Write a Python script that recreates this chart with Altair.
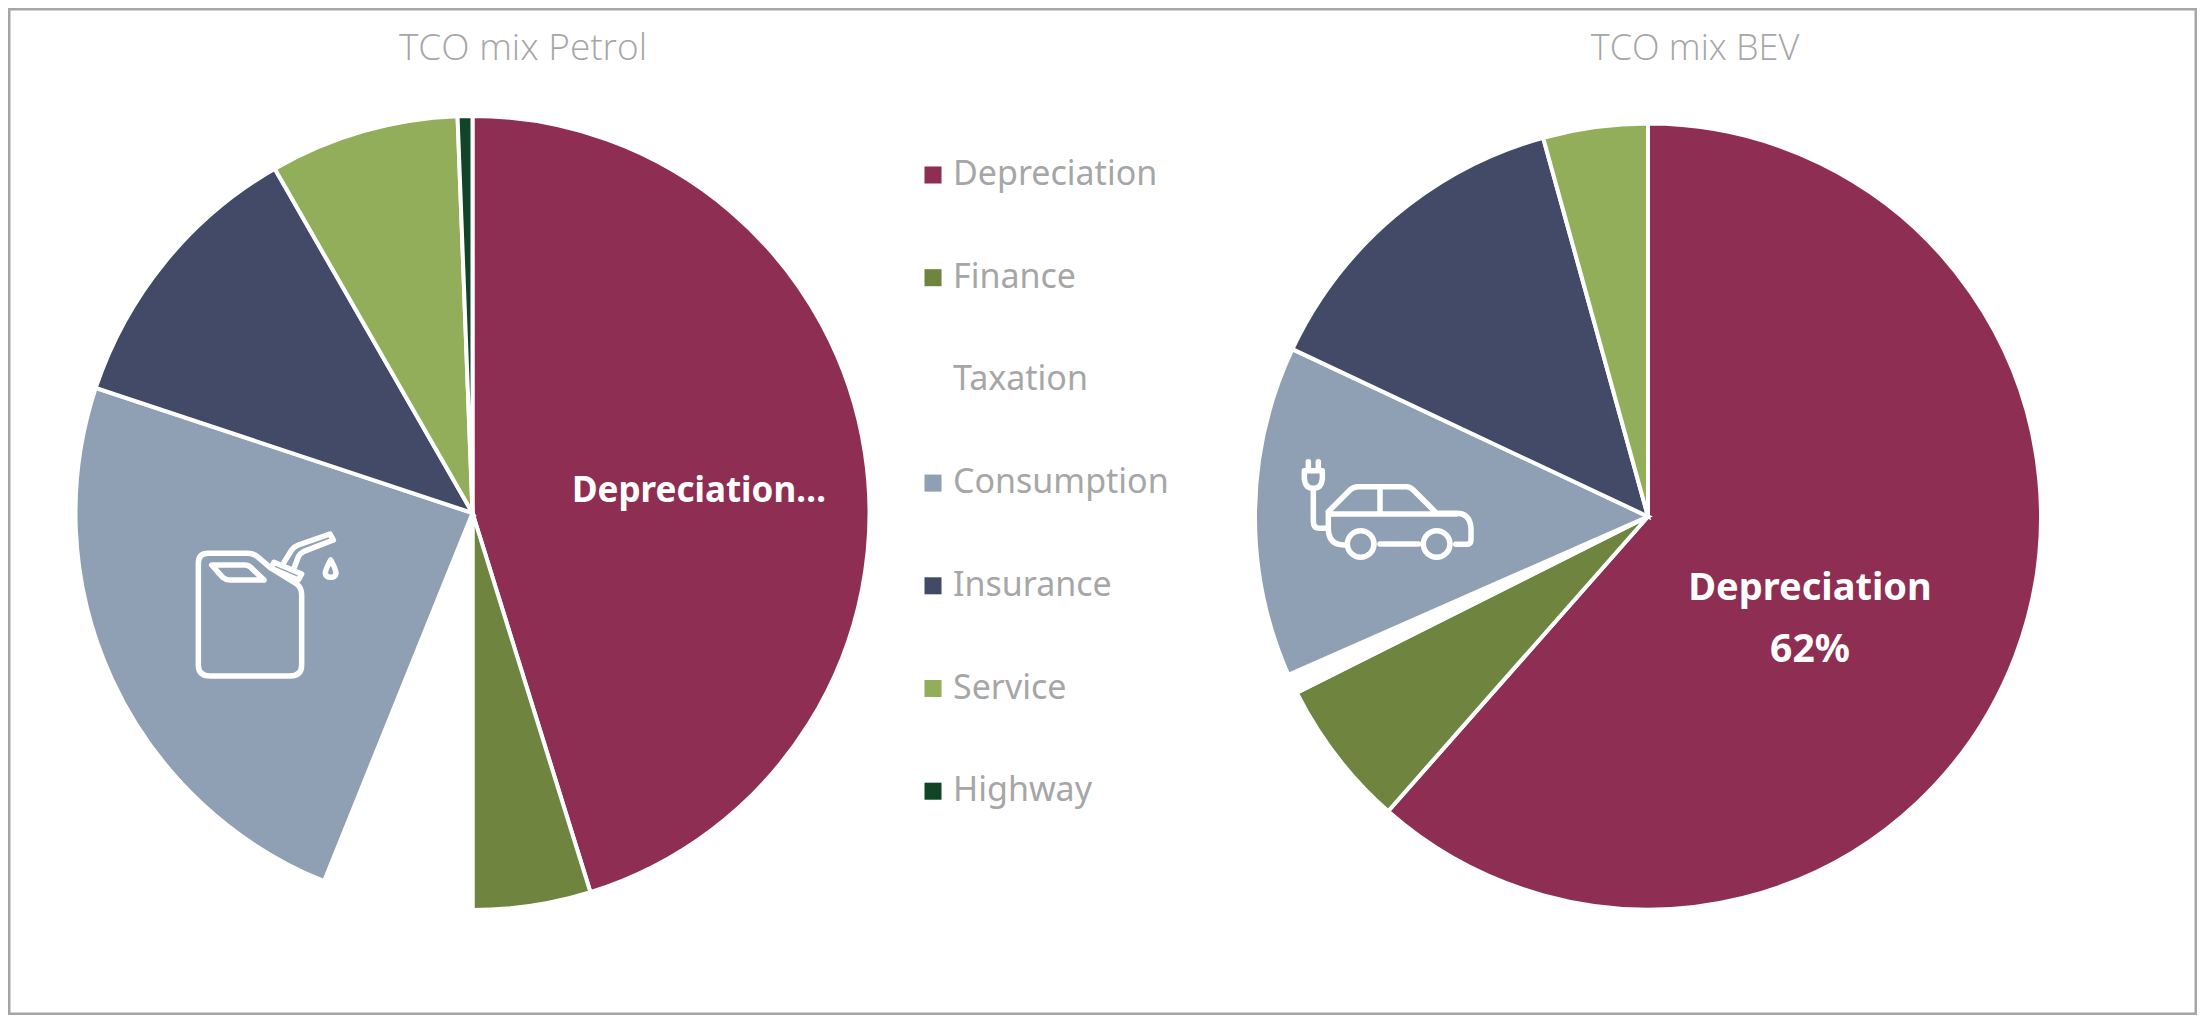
import altair as alt
import pandas as pd

categories = ["Depreciation", "Finance", "Taxation", "Consumption", "Insurance", "Service", "Highway"]
colors = ["#8E2E53", "#6E843F", "#FFFFFF", "#8F9FB4", "#424A67", "#93AE5B", "#124527"]
petrol = [45.2, 4.8, 6.1, 24.0, 11.6, 7.7, 0.6]
bev = [61.5, 6.1, 0.8, 13.6, 13.7, 4.3, 0.0]

FONT = "Noto Sans"
OFF = 9  # page margin + padding

JERRYCAN = ("M115 130H235Q250 130 262 140L300 172L380 222Q395 232 395 255V465Q395 498 360 498H120Q85 498 85 465V160Q85 130 115 130Z"
            "M125 165H225Q235 165 242 172L282 210H178Q168 210 158 202Z"
            "M312 157L395 192L385 210L303 175Z"
            "M340 160L365 120Q372 110 385 105L480 72L490 90L400 125Q390 130 385 140L370 180"
            "M482 150Q466 178 466 190Q468 202 482 202Q496 202 498 190Q498 178 482 150Z")
EVCAR = ("M115 65V90M145 65V90M103 92H157V115Q155 145 130 145Q105 145 103 115Z"
         "M130 145V245Q130 265 150 265H175"
         "M175 215V265Q175 315 222 315"
         "M175 215L240 150Q250 140 265 140H410Q420 140 430 150L500 220H560Q600 220 603 265V300Q603 313 590 313H557"
         "M175 222H560M330 145V220M330 312H445"
         "M232 312A40 40 0 1 0 312 312A40 40 0 1 0 232 312Z"
         "M460 312A40 40 0 1 0 540 312A40 40 0 1 0 460 312Z")


def pie(values, cx, cy, r, legend):
    df = pd.DataFrame({"category": categories, "value": values, "idx": range(len(categories))})
    return alt.Chart(df).mark_arc(radius=r, stroke="white", strokeWidth=4).encode(
        theta=alt.Theta("value:Q", stack=True, scale=alt.Scale(domain=[0, 100])),
        color=alt.Color(
            "category:N",
            scale=alt.Scale(domain=categories, range=colors),
            sort=categories,
            legend=legend,
        ),
        order=alt.Order("idx:Q"),
        x=alt.value(cx - OFF),
        y=alt.value(cy - OFF),
    )


def label(text, cx, baseline_y, size, color, weight, font=FONT):
    return alt.Chart(pd.DataFrame({"t": [text]})).mark_text(
        font=font, fontSize=size, fontWeight=weight, color=color, align="center", baseline="alphabetic"
    ).encode(text="t:N", x=alt.value(cx - OFF), y=alt.value(baseline_y - OFF))


def icon(path, ox, oy):
    return alt.Chart(pd.DataFrame({"i": [0]})).mark_point(
        shape=path, size=4 / 9, filled=False, stroke="white", strokeWidth=5.5, opacity=1,
        strokeCap="round", strokeJoin="round",
    ).encode(x=alt.value(ox - OFF), y=alt.value(oy - OFF))


legend = alt.Legend(
    orient="none", legendX=916 - OFF, legendY=158 - OFF, title=None,
    symbolType="square", symbolSize=290, symbolStrokeWidth=0,
    labelFont=FONT, labelFontSize=34, labelColor="#A6A6A6", labelOffset=3, labelLimit=400,
    rowPadding=68.7, padding=0,
)

chart = alt.layer(
    pie(petrol, 472.5, 513, 397, legend),
    pie(bev, 1648, 516.5, 393, legend),
    icon(JERRYCAN, 170, 510),
    icon(EVCAR, 1270, 440),
    label("TCO mix Petrol", 523, 60, 37, "#A6A6A6", 300, "Open Sans"),
    label("TCO mix BEV", 1695, 60, 36, "#A6A6A6", 300, "Open Sans"),
    label("Depreciation…", 699, 502, 35, "#FFFFFF", 700),
    label("Depreciation", 1810, 600, 38, "#FFFFFF", 700),
    label("62%", 1810, 662, 39, "#FFFFFF", 700),
).properties(
    width=2187, height=1005, padding=1,
    autosize=alt.AutoSizeParams(type="none"),
).configure_view(stroke="#A6A6A6", strokeWidth=3)

chart.save("out.html", embed_options={"renderer": "svg", "actions": False})
